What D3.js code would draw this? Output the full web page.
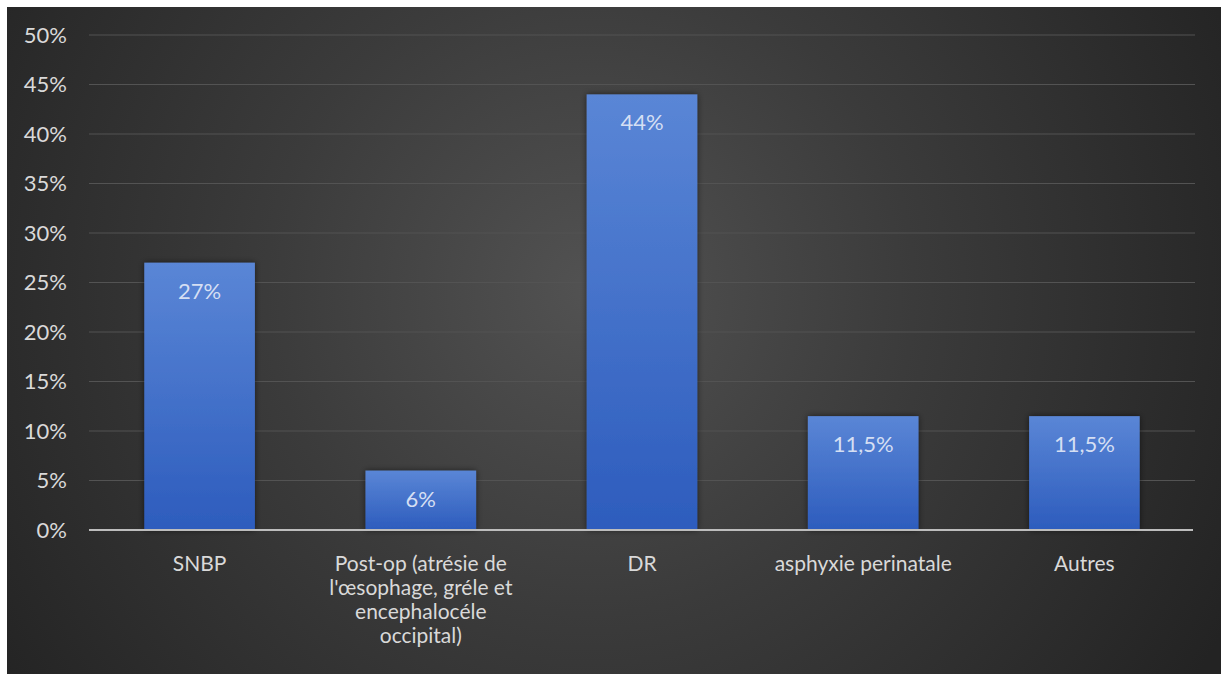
<!DOCTYPE html>
<html>
<head>
<meta charset="utf-8">
<script src="https://cdn.jsdelivr.net/npm/d3@7"></script>
<style>
  html, body { margin: 0; padding: 0; background: #ffffff; }
  svg { display: block; }
  text { font-family: Lato, "Open Sans", sans-serif; }
</style>
</head>
<body>
<svg id="chart" width="1221" height="674"></svg>
<script>
// Categories (line-wrapped as displayed), values in percent, value labels
const categories = [
  ["SNBP"],
  ["Post-op (atrésie de", "l'œsophage, gréle et", "encephalocéle", "occipital)"],
  ["DR"],
  ["asphyxie perinatale"],
  ["Autres"]
];
const values = [27, 6, 44, 11.5, 11.5];
const valueLabels = ["27%", "6%", "44%", "11,5%", "11,5%"];
const yTicks = [0, 5, 10, 15, 20, 25, 30, 35, 40, 45, 50];

const svg = d3.select("#chart");
const W = 1221, H = 674;
const panel = { x: 7, y: 7 };
const margin = { left: 89, right: 26, top: 35, bottom: 144 };

const defs = svg.append("defs");
const bg = defs.append("radialGradient").attr("id", "bg")
  .attr("gradientUnits", "userSpaceOnUse")
  .attr("cx", 590).attr("cy", 290).attr("r", 720);
bg.append("stop").attr("offset", "0%").attr("stop-color", "#525252");
bg.append("stop").attr("offset", "45%").attr("stop-color", "#3b3b3b");
bg.append("stop").attr("offset", "100%").attr("stop-color", "#232323");

const barGrad = defs.append("linearGradient").attr("id", "barGrad")
  .attr("x1", 0).attr("y1", 0).attr("x2", 0).attr("y2", 1);
barGrad.append("stop").attr("offset", "0%").attr("stop-color", "#5a86d6");
barGrad.append("stop").attr("offset", "100%").attr("stop-color", "#2d5cbd");

const shadow = defs.append("filter").attr("id", "shadow")
  .attr("x", "-20%").attr("y", "-20%").attr("width", "140%").attr("height", "140%");
shadow.append("feDropShadow").attr("dx", 0).attr("dy", 0)
  .attr("stdDeviation", 3).attr("flood-color", "#000").attr("flood-opacity", 0.55);

svg.append("rect")
  .attr("x", panel.x).attr("y", panel.y)
  .attr("width", W - panel.x).attr("height", H - panel.y)
  .attr("fill", "url(#bg)");

const x = d3.scaleBand()
  .domain(d3.range(categories.length))
  .range([margin.left, W - margin.right])
  .paddingInner(0.5).paddingOuter(0.25);

const y = d3.scaleLinear()
  .domain([0, 50])
  .range([530, margin.top]);

// Gridlines
svg.append("g")
  .selectAll("line")
  .data(yTicks.filter(t => t > 0))
  .join("line")
  .attr("x1", margin.left).attr("x2", W - margin.right)
  .attr("y1", d => y(d)).attr("y2", d => y(d))
  .attr("stroke", "#535353").attr("stroke-width", 1);

// Y axis tick labels
const yAxis = d3.axisLeft(y).tickValues(yTicks).tickFormat(d => d + "%").tickSize(0).tickPadding(22);
const gy = svg.append("g").attr("transform", `translate(${margin.left},0)`).call(yAxis);
gy.select(".domain").remove();
gy.selectAll("text")
  .attr("fill", "#d9d9d9")
  .style("font-size", "22px")
  .style("font-family", "Lato, sans-serif");

// Bars
svg.append("g")
  .selectAll("rect")
  .data(values)
  .join("rect")
  .attr("x", (d, i) => x(i))
  .attr("width", x.bandwidth())
  .attr("y", d => y(d))
  .attr("height", d => y(0) - y(d))
  .attr("fill", "url(#barGrad)")
  .attr("filter", "url(#shadow)");

// Value labels inside the top of each bar
svg.append("g")
  .selectAll("text")
  .data(values)
  .join("text")
  .attr("x", (d, i) => x(i) + x.bandwidth() / 2)
  .attr("y", d => y(d) + 36)
  .attr("text-anchor", "middle")
  .attr("fill", "#d5dff3")
  .style("font-size", "22px")
  .text((d, i) => valueLabels[i]);

// Baseline axis
svg.append("line")
  .attr("x1", margin.left).attr("x2", W - margin.right - 2)
  .attr("y1", y(0)).attr("y2", y(0))
  .attr("stroke", "#bdbdbd").attr("stroke-width", 2);

// Category labels
const cat = svg.append("g")
  .selectAll("text")
  .data(categories)
  .join("text")
  .attr("text-anchor", "middle")
  .attr("fill", "#d9d9d9")
  .style("font-size", "21px");
cat.each(function(lines, i) {
  const t = d3.select(this);
  lines.forEach((ln, k) => {
    t.append("tspan")
      .attr("x", x(i) + x.bandwidth() / 2)
      .attr("y", 571 + k * 24)
      .text(ln);
  });
});
</script>
</body>
</html>
